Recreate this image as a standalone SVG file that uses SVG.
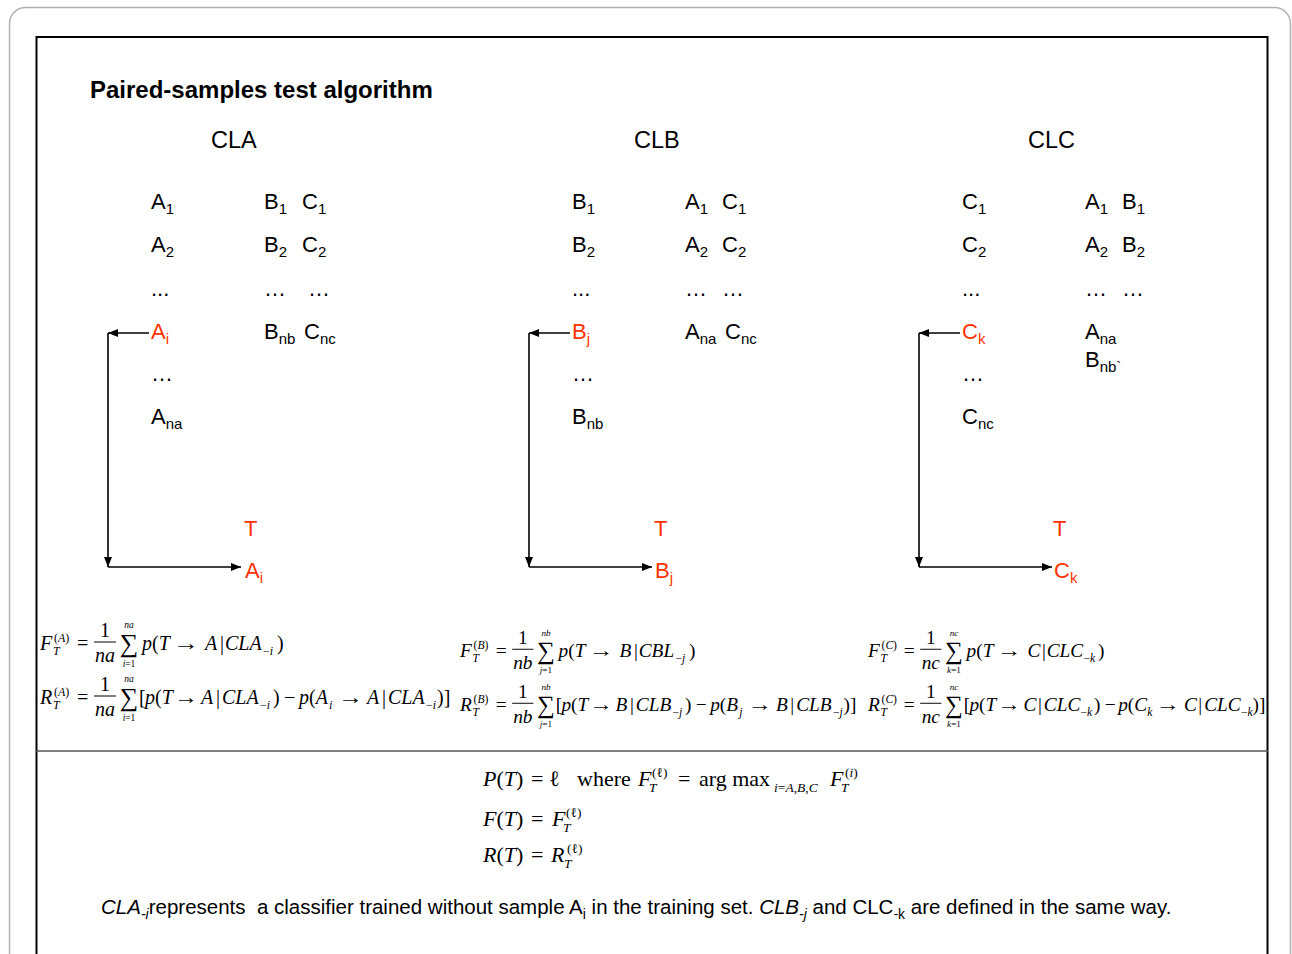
<svg xmlns="http://www.w3.org/2000/svg" width="1292" height="954" viewBox="0 0 1292 954">
<defs>
<marker id="ah" viewBox="0 0 10 8" refX="10" refY="4" markerWidth="10" markerHeight="8" markerUnits="userSpaceOnUse" orient="auto"><path d="M0,0 L10,4 L0,8 z" fill="#000"/></marker>
</defs>
<style>
.s{font-family:"Liberation Sans",Arial,sans-serif;fill:#000}
.lt{font-size:22px}
.hd{font-size:23.5px}
.sb{font-size:15px}
.red{fill:#ff3300}
.m{font-family:"Liberation Serif","Times New Roman",serif;fill:#000}
.i{font-style:italic}
.f19{font-size:20px}
.f11{font-size:12px}
.f10{font-size:9.5px}
.sig{font-size:26px}
.f22{font-size:22px}
.f13{font-size:13.5px}
.conn line{stroke:#000;stroke-width:1.6;marker-end:url(#ah)}
.bar{stroke:#000;stroke-width:1}
</style>
<rect x="9.5" y="7.5" width="1281" height="1000" rx="16" fill="#fff" stroke="#b0b0b0" stroke-width="1.5"/>
<rect x="36.5" y="37" width="1231" height="1000" fill="none" stroke="#000" stroke-width="2"/>
<line x1="36" y1="751" x2="1268" y2="751" stroke="#555" stroke-width="1.5"/>

<g id="title"><text class="s" font-weight="bold" font-size="24" x="90" y="98">Paired-samples test algorithm</text></g>

<g id="cla">
<text class="s hd" x="211" y="148">CLA</text>
<text class="s lt" x="151" y="209">A<tspan class="sb" dy="5">1</tspan></text>
<text class="s lt" x="151" y="252">A<tspan class="sb" dy="5">2</tspan></text>
<text class="s lt" x="151" y="296">...</text>
<text class="s lt red" x="151" y="339">A<tspan class="sb" dy="5">i</tspan></text>
<text class="s lt" x="151" y="381">…</text>
<text class="s lt" x="151" y="424">A<tspan class="sb" dy="5">na</tspan></text>
<text class="s lt" x="264" y="209">B<tspan class="sb" dy="5">1</tspan></text>
<text class="s lt" x="302" y="209">C<tspan class="sb" dy="5">1</tspan></text>
<text class="s lt" x="264" y="252">B<tspan class="sb" dy="5">2</tspan></text>
<text class="s lt" x="302" y="252">C<tspan class="sb" dy="5">2</tspan></text>
<text class="s lt" x="264" y="296">…</text>
<text class="s lt" x="308" y="296">…</text>
<text class="s lt" x="264" y="339">B<tspan class="sb" dy="5">nb</tspan></text>
<text class="s lt" x="304" y="339">C<tspan class="sb" dy="5">nc</tspan></text>
<text class="s lt red" x="244" y="536">T</text>
<text class="s lt red" x="245" y="578">A<tspan class="sb" dy="5">i</tspan></text>
</g>

<g id="clb">
<text class="s hd" x="634" y="148">CLB</text>
<text class="s lt" x="572" y="209">B<tspan class="sb" dy="5">1</tspan></text>
<text class="s lt" x="572" y="252">B<tspan class="sb" dy="5">2</tspan></text>
<text class="s lt" x="572" y="296">...</text>
<text class="s lt red" x="572" y="339">B<tspan class="sb" dy="5">j</tspan></text>
<text class="s lt" x="572" y="381">…</text>
<text class="s lt" x="572" y="424">B<tspan class="sb" dy="5">nb</tspan></text>
<text class="s lt" x="685" y="209">A<tspan class="sb" dy="5">1</tspan></text>
<text class="s lt" x="722" y="209">C<tspan class="sb" dy="5">1</tspan></text>
<text class="s lt" x="685" y="252">A<tspan class="sb" dy="5">2</tspan></text>
<text class="s lt" x="722" y="252">C<tspan class="sb" dy="5">2</tspan></text>
<text class="s lt" x="685" y="296">…</text>
<text class="s lt" x="722" y="296">…</text>
<text class="s lt" x="685" y="339">A<tspan class="sb" dy="5">na</tspan></text>
<text class="s lt" x="725" y="339">C<tspan class="sb" dy="5">nc</tspan></text>
<text class="s lt red" x="654" y="536">T</text>
<text class="s lt red" x="655" y="578">B<tspan class="sb" dy="5">j</tspan></text>
</g>

<g id="clc">
<text class="s hd" x="1028" y="148">CLC</text>
<text class="s lt" x="962" y="209">C<tspan class="sb" dy="5">1</tspan></text>
<text class="s lt" x="962" y="252">C<tspan class="sb" dy="5">2</tspan></text>
<text class="s lt" x="962" y="296">...</text>
<text class="s lt red" x="962" y="339">C<tspan class="sb" dy="5">k</tspan></text>
<text class="s lt" x="962" y="381">…</text>
<text class="s lt" x="962" y="424">C<tspan class="sb" dy="5">nc</tspan></text>
<text class="s lt" x="1085" y="209">A<tspan class="sb" dy="5">1</tspan></text>
<text class="s lt" x="1122" y="209">B<tspan class="sb" dy="5">1</tspan></text>
<text class="s lt" x="1085" y="252">A<tspan class="sb" dy="5">2</tspan></text>
<text class="s lt" x="1122" y="252">B<tspan class="sb" dy="5">2</tspan></text>
<text class="s lt" x="1085" y="296">…</text>
<text class="s lt" x="1122" y="296">…</text>
<text class="s lt" x="1085" y="339">A<tspan class="sb" dy="5">na</tspan></text>
<text class="s lt" x="1085" y="367">B<tspan class="sb" dy="5">nb`</tspan></text>
<text class="s lt red" x="1053" y="536">T</text>
<text class="s lt red" x="1054" y="578">C<tspan class="sb" dy="5">k</tspan></text>
</g>

<g id="connectors" class="conn">
<line x1="149" y1="333" x2="108" y2="333"/>
<line x1="108" y1="333" x2="108" y2="567"/>
<line x1="108" y1="567" x2="241" y2="567"/>
<line x1="570" y1="333" x2="529" y2="333"/>
<line x1="529" y1="333" x2="529" y2="567"/>
<line x1="529" y1="567" x2="652" y2="567"/>
<line x1="960" y1="333" x2="919" y2="333"/>
<line x1="919" y1="333" x2="919" y2="567"/>
<line x1="919" y1="567" x2="1052" y2="567"/>
</g>

<!-- Formulas A -->
<g id="formula-fa" transform="translate(40,650)">
<text class="m i f19" x="0" y="0">F</text>
<text class="m i f11" x="13" y="5">T</text>
<text class="m f11" x="14" y="-8">(<tspan class="i">A</tspan>)</text>
<text class="m f19" x="37" y="0">=</text>
<text class="m f19" x="65" y="-13" text-anchor="middle">1</text>
<line class="bar" x1="54" y1="-8" x2="76" y2="-8"/>
<text class="m i f19" x="65" y="12" text-anchor="middle">na</text>
<text class="m sig" x="89" y="2" text-anchor="middle">∑</text>
<text class="m i f10" x="89" y="-22" text-anchor="middle">na</text>
<text class="m f10" x="89" y="17" text-anchor="middle"><tspan class="i">i</tspan>=1</text>
<text class="m f19" x="102" y="0"><tspan class="i">p</tspan>(<tspan class="i">T</tspan></text>
<text class="m f19" x="133" y="0" textLength="26" lengthAdjust="spacingAndGlyphs">→</text>
<text class="m i f19" x="165" y="0">A</text>
<text class="m f19" x="180" y="0">|</text>
<text class="m i f19" x="185" y="0">CLA</text>
<text class="m f11" x="223" y="5">−<tspan class="i">i</tspan></text>
<text class="m f19" x="237" y="0">)</text>
</g>
<g id="formula-ra" transform="translate(40,704)">
<text class="m i f19" x="0" y="0">R</text>
<text class="m i f11" x="13" y="5">T</text>
<text class="m f11" x="14" y="-8">(<tspan class="i">A</tspan>)</text>
<text class="m f19" x="37" y="0">=</text>
<text class="m f19" x="65" y="-13" text-anchor="middle">1</text>
<line class="bar" x1="54" y1="-8" x2="76" y2="-8"/>
<text class="m i f19" x="65" y="12" text-anchor="middle">na</text>
<text class="m sig" x="89" y="2" text-anchor="middle">∑</text>
<text class="m i f10" x="89" y="-22" text-anchor="middle">na</text>
<text class="m f10" x="89" y="17" text-anchor="middle"><tspan class="i">i</tspan>=1</text>
<text class="m f19" x="99" y="0">[</text>
<text class="m f19" x="105" y="0"><tspan class="i">p</tspan>(<tspan class="i">T</tspan></text>
<text class="m f19" x="134" y="0" textLength="24" lengthAdjust="spacingAndGlyphs">→</text>
<text class="m i f19" x="161" y="0">A</text>
<text class="m f19" x="176" y="0">|</text>
<text class="m i f19" x="182" y="0">CLA</text>
<text class="m f11" x="220" y="5">−<tspan class="i">i</tspan></text>
<text class="m f19" x="233" y="0">)</text>
<text class="m f19" x="244" y="0">−</text>
<text class="m f19" x="259" y="0"><tspan class="i">p</tspan>(<tspan class="i">A</tspan></text>
<text class="m i f11" x="289" y="5">i</text>
<text class="m f19" x="298" y="0" textLength="25" lengthAdjust="spacingAndGlyphs">→</text>
<text class="m i f19" x="327" y="0">A</text>
<text class="m f19" x="342" y="0">|</text>
<text class="m i f19" x="348" y="0">CLA</text>
<text class="m f11" x="386" y="5">−<tspan class="i">i</tspan></text>
<text class="m f19" x="397" y="0">)]</text>
</g>

<!-- Formulas B -->
<g id="formula-fb" transform="translate(460,657) scale(0.966)">
<text class="m i f19" x="0" y="0">F</text>
<text class="m i f11" x="13" y="5">T</text>
<text class="m f11" x="14" y="-8">(<tspan class="i">B</tspan>)</text>
<text class="m f19" x="37" y="0">=</text>
<text class="m f19" x="65" y="-13" text-anchor="middle">1</text>
<line class="bar" x1="54" y1="-8" x2="76" y2="-8"/>
<text class="m i f19" x="65" y="12" text-anchor="middle">nb</text>
<text class="m sig" x="89" y="2" text-anchor="middle">∑</text>
<text class="m i f10" x="89" y="-22" text-anchor="middle">nb</text>
<text class="m f10" x="89" y="17" text-anchor="middle"><tspan class="i">j</tspan>=1</text>
<text class="m f19" x="102" y="0"><tspan class="i">p</tspan>(<tspan class="i">T</tspan></text>
<text class="m f19" x="133" y="0" textLength="26" lengthAdjust="spacingAndGlyphs">→</text>
<text class="m i f19" x="165" y="0">B</text>
<text class="m f19" x="180" y="0">|</text>
<text class="m i f19" x="185" y="0">CBL</text>
<text class="m f11" x="223" y="5">−<tspan class="i">j</tspan></text>
<text class="m f19" x="237" y="0">)</text>
</g>
<g id="formula-rb" transform="translate(460,711) scale(0.966)">
<text class="m i f19" x="0" y="0">R</text>
<text class="m i f11" x="13" y="5">T</text>
<text class="m f11" x="14" y="-8">(<tspan class="i">B</tspan>)</text>
<text class="m f19" x="37" y="0">=</text>
<text class="m f19" x="65" y="-13" text-anchor="middle">1</text>
<line class="bar" x1="54" y1="-8" x2="76" y2="-8"/>
<text class="m i f19" x="65" y="12" text-anchor="middle">nb</text>
<text class="m sig" x="89" y="2" text-anchor="middle">∑</text>
<text class="m i f10" x="89" y="-22" text-anchor="middle">nb</text>
<text class="m f10" x="89" y="17" text-anchor="middle"><tspan class="i">j</tspan>=1</text>
<text class="m f19" x="99" y="0">[</text>
<text class="m f19" x="105" y="0"><tspan class="i">p</tspan>(<tspan class="i">T</tspan></text>
<text class="m f19" x="134" y="0" textLength="24" lengthAdjust="spacingAndGlyphs">→</text>
<text class="m i f19" x="161" y="0">B</text>
<text class="m f19" x="176" y="0">|</text>
<text class="m i f19" x="182" y="0">CLB</text>
<text class="m f11" x="220" y="5">−<tspan class="i">j</tspan></text>
<text class="m f19" x="233" y="0">)</text>
<text class="m f19" x="244" y="0">−</text>
<text class="m f19" x="259" y="0"><tspan class="i">p</tspan>(<tspan class="i">B</tspan></text>
<text class="m i f11" x="289" y="5">j</text>
<text class="m f19" x="298" y="0" textLength="25" lengthAdjust="spacingAndGlyphs">→</text>
<text class="m i f19" x="327" y="0">B</text>
<text class="m f19" x="342" y="0">|</text>
<text class="m i f19" x="348" y="0">CLB</text>
<text class="m f11" x="386" y="5">−<tspan class="i">j</tspan></text>
<text class="m f19" x="397" y="0">)]</text>
</g>

<!-- Formulas C -->
<g id="formula-fc" transform="translate(868,657) scale(0.966)">
<text class="m i f19" x="0" y="0">F</text>
<text class="m i f11" x="13" y="5">T</text>
<text class="m f11" x="14" y="-8">(<tspan class="i">C</tspan>)</text>
<text class="m f19" x="37" y="0">=</text>
<text class="m f19" x="65" y="-13" text-anchor="middle">1</text>
<line class="bar" x1="54" y1="-8" x2="76" y2="-8"/>
<text class="m i f19" x="65" y="12" text-anchor="middle">nc</text>
<text class="m sig" x="89" y="2" text-anchor="middle">∑</text>
<text class="m i f10" x="89" y="-22" text-anchor="middle">nc</text>
<text class="m f10" x="89" y="17" text-anchor="middle"><tspan class="i">k</tspan>=1</text>
<text class="m f19" x="102" y="0"><tspan class="i">p</tspan>(<tspan class="i">T</tspan></text>
<text class="m f19" x="133" y="0" textLength="26" lengthAdjust="spacingAndGlyphs">→</text>
<text class="m i f19" x="165" y="0">C</text>
<text class="m f19" x="180" y="0">|</text>
<text class="m i f19" x="185" y="0">CLC</text>
<text class="m f11" x="223" y="5">−<tspan class="i">k</tspan></text>
<text class="m f19" x="238" y="0">)</text>
</g>
<g id="formula-rc" transform="translate(868,711) scale(0.966)">
<text class="m i f19" x="0" y="0">R</text>
<text class="m i f11" x="13" y="5">T</text>
<text class="m f11" x="14" y="-8">(<tspan class="i">C</tspan>)</text>
<text class="m f19" x="37" y="0">=</text>
<text class="m f19" x="65" y="-13" text-anchor="middle">1</text>
<line class="bar" x1="54" y1="-8" x2="76" y2="-8"/>
<text class="m i f19" x="65" y="12" text-anchor="middle">nc</text>
<text class="m sig" x="89" y="2" text-anchor="middle">∑</text>
<text class="m i f10" x="89" y="-22" text-anchor="middle">nc</text>
<text class="m f10" x="89" y="17" text-anchor="middle"><tspan class="i">k</tspan>=1</text>
<text class="m f19" x="99" y="0">[</text>
<text class="m f19" x="105" y="0"><tspan class="i">p</tspan>(<tspan class="i">T</tspan></text>
<text class="m f19" x="134" y="0" textLength="24" lengthAdjust="spacingAndGlyphs">→</text>
<text class="m i f19" x="161" y="0">C</text>
<text class="m f19" x="176" y="0">|</text>
<text class="m i f19" x="182" y="0">CLC</text>
<text class="m f11" x="220" y="5">−<tspan class="i">k</tspan></text>
<text class="m f19" x="234" y="0">)</text>
<text class="m f19" x="245" y="0">−</text>
<text class="m f19" x="259" y="0"><tspan class="i">p</tspan>(<tspan class="i">C</tspan></text>
<text class="m i f11" x="289" y="5">k</text>
<text class="m f19" x="298" y="0" textLength="25" lengthAdjust="spacingAndGlyphs">→</text>
<text class="m i f19" x="327" y="0">C</text>
<text class="m f19" x="342" y="0">|</text>
<text class="m i f19" x="348" y="0">CLC</text>
<text class="m f11" x="386" y="5">−<tspan class="i">k</tspan></text>
<text class="m f19" x="398" y="0">)]</text>
</g>

<!-- Bottom formulas -->
<g id="formula-final" transform="translate(483,0)">
<text class="m f22" x="0" y="786"><tspan class="i">P</tspan>(<tspan class="i">T</tspan>)</text>
<text class="m f22" x="48" y="786">=</text>
<text class="m f22" x="66" y="786">ℓ</text>
<text class="m f22" x="94" y="786">where</text>
<text class="m i f22" x="155" y="786">F</text>
<text class="m i f13" x="166" y="792">T</text>
<text class="m f13" x="169" y="777">(ℓ)</text>
<text class="m f22" x="195" y="786">=</text>
<text class="m f22" x="216" y="786">arg max</text>
<text class="m f13" x="291" y="792"><tspan class="i">i</tspan>=<tspan class="i">A</tspan>,<tspan class="i">B</tspan>,<tspan class="i">C</tspan></text>
<text class="m i f22" x="347" y="786">F</text>
<text class="m i f13" x="358" y="792">T</text>
<text class="m f13" x="362" y="777">(<tspan class="i">i</tspan>)</text>

<text class="m f22" x="0" y="826"><tspan class="i">F</tspan>(<tspan class="i">T</tspan>)</text>
<text class="m f22" x="48" y="826">=</text>
<text class="m i f22" x="69" y="826">F</text>
<text class="m i f13" x="80" y="832">T</text>
<text class="m f13" x="83" y="817">(ℓ)</text>

<text class="m f22" x="0" y="862"><tspan class="i">R</tspan>(<tspan class="i">T</tspan>)</text>
<text class="m f22" x="48" y="862">=</text>
<text class="m i f22" x="68" y="862">R</text>
<text class="m i f13" x="81" y="868">T</text>
<text class="m f13" x="84" y="853">(ℓ)</text>
</g>

<g id="caption">
<text class="s" font-size="20.5" x="101" y="914" xml:space="preserve"><tspan class="i">CLA</tspan><tspan class="i" font-size="14" dy="5">-i</tspan><tspan dy="-5">represents  a classifier trained without sample A</tspan><tspan font-size="14" dy="5">i</tspan><tspan dy="-5"> in the training set. </tspan><tspan class="i">CLB</tspan><tspan class="i" font-size="14" dy="5">-j</tspan><tspan dy="-5"> and CLC</tspan><tspan font-size="14" dy="5">-k</tspan><tspan dy="-5"> are defined in the same way.</tspan></text>
</g>
</svg>
